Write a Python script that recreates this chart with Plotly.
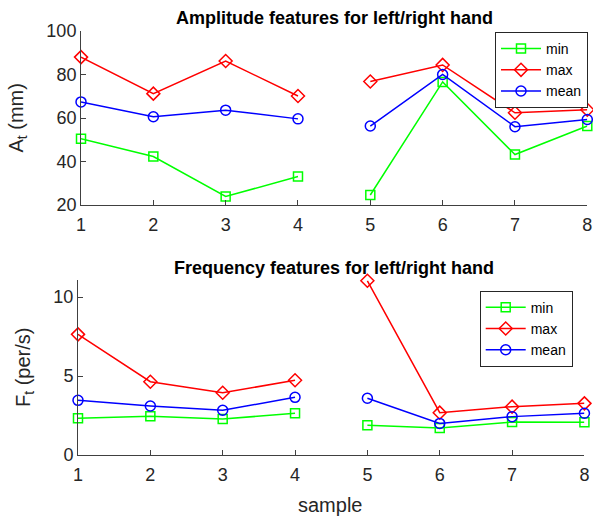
import plotly.graph_objects as go

samples = [1, 2, 3, 4, 5, 6, 7, 8]
break_after = 4  # lines are not joined between sample 4 and sample 5

amp_min = [50.5, 42.3, 23.9, 33.1, 24.6, 76.6, 43.2, 56.3]
amp_max = [88.0, 71.2, 86.2, 70.1, 76.8, 84.4, 62.4, 63.8]
amp_mean = [67.4, 60.6, 63.6, 59.6, 56.3, 80.0, 56.0, 59.3]

freq_min = [2.32, 2.45, 2.28, 2.64, 1.88, 1.71, 2.09, 2.07]
freq_max = [7.64, 4.64, 3.94, 4.73, 11.03, 2.68, 3.06, 3.27]
freq_mean = [3.46, 3.10, 2.83, 3.65, 3.59, 2.00, 2.43, 2.64]

series_names = ["min", "max", "mean"]
series_colors = ["#00FF00", "#FF0000", "#0000FF"]
series_symbols = ["square-open", "diamond-open", "circle-open"]
series_sizes = [9, 10, 10]

title_top = "<b>Amplitude features for left/right hand</b>"
title_bottom = "<b>Frequency features for left/right hand</b>"
ylabel_top = "A<sub>t</sub> (mm)"
ylabel_bottom = "F<sub>t</sub> (per/s)"
xlabel = "sample"

amp_ticks = [20, 40, 60, 80, 100]
freq_ticks = [0, 5, 10]


def gapped(xs, ys):
    gx = list(xs[:break_after]) + [None] + list(xs[break_after:])
    gy = list(ys[:break_after]) + [None] + list(ys[break_after:])
    return gx, gy


fig = go.Figure()
for vals, xa, ya, lg in [
    ([amp_min, amp_max, amp_mean], "x", "y", "legend"),
    ([freq_min, freq_max, freq_mean], "x2", "y2", "legend2"),
]:
    for v, name, col, sym, sz in zip(vals, series_names, series_colors, series_symbols, series_sizes):
        gx, gy = gapped(samples, v)
        fig.add_trace(go.Scatter(
            x=gx, y=gy, name=name, mode="lines+markers",
            line=dict(color=col, width=1.5),
            marker=dict(symbol=sym, size=sz, color=col, line=dict(color=col, width=1.5)),
            connectgaps=False, cliponaxis=False,
            xaxis=xa, yaxis=ya, legend=lg,
        ))

axis_col = "#404040"
tick_font = dict(family="Liberation Sans, Arial, sans-serif", size=18, color="#262626")
common = dict(showline=True, linecolor=axis_col, linewidth=1, ticks="inside", ticklen=5,
              tickcolor=axis_col, showgrid=False, zeroline=False, mirror=False,
              automargin=False, tickfont=tick_font)

leg_common = dict(xanchor="right", yanchor="top", bordercolor="#262626", borderwidth=1,
                  bgcolor="white", itemwidth=40, font=dict(size=14, color="#000000"),
                  tracegroupgap=0)

fig.update_layout(
    width=593, height=517,
    margin=dict(l=78, r=5, t=31, b=62, autoexpand=False),
    paper_bgcolor="white", plot_bgcolor="white",
    font=dict(family="Liberation Sans, Arial, sans-serif", color="#262626"),
    xaxis=dict(domain=[0.0059, 0.9986], range=[1, 8], tickvals=samples, anchor="y",
               ticklabelstandoff=3, **common),
    yaxis=dict(domain=[0.5896, 1.0], range=[20, 100], tickvals=amp_ticks, anchor="x", **common),
    xaxis2=dict(domain=[0.0, 0.993], range=[1, 8], tickvals=samples, anchor="y2",
                ticklabelstandoff=3, **common),
    yaxis2=dict(domain=[0.0, 0.4127], range=[0, 11.08], tickvals=freq_ticks, anchor="x2", **common),
    legend=dict(x=1.0, y=0.9976, **leg_common),
    legend2=dict(x=0.970, y=0.3875, **leg_common),
    showlegend=True,
)

ann = [
    dict(text=title_top, x=0.502, y=(455 - 18) / 424, font=dict(size=18, color="#000000")),
    dict(text=title_bottom, x=0.502, y=(455 - 268) / 424, font=dict(size=18, color="#000000")),
    dict(text=xlabel, x=(330 - 78) / 510, y=(455 - 505) / 424, font=dict(size=20, color="#262626")),
    dict(text=ylabel_top, x=(16.5 - 78) / 510, y=(455 - 118) / 424, textangle=-90,
         font=dict(size=20, color="#262626")),
    dict(text=ylabel_bottom, x=(24.5 - 78) / 510, y=(455 - 367.5) / 424, textangle=-90,
         font=dict(size=20, color="#262626")),
]
for a in ann:
    fig.add_annotation(xref="paper", yref="paper", showarrow=False,
                       xanchor="center", yanchor="middle", **a)

fig.write_html("out.html", config={"displayModeBar": False},
               post_script="document.body.style.margin='0px';")
